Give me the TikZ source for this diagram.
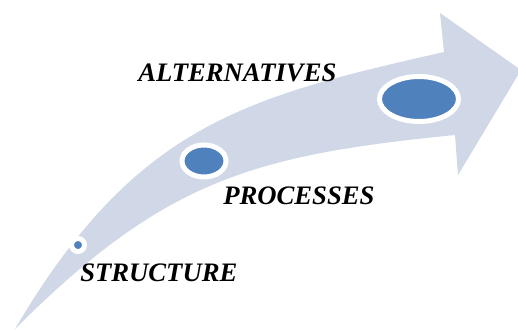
\documentclass[tikz,border=0pt]{standalone}
\usepackage{fontspec}
\setmainfont{Liberation Serif}
\usepackage{tikz}

\begin{document}
\begin{tikzpicture}[x=0.75pt,y=0.75pt,yscale=-1,xscale=1]
\tikzset{stage/.style={draw={rgb, 255:red, 255; green, 255; blue, 255 }, line width=3.75, fill={rgb, 255:red, 79; green, 129; blue, 189 }, fill opacity=1},
  steplabel/.style={anchor=base west, inner sep=0pt, font=\fontsize{20}{24}\selectfont\bfseries\itshape}}
%set diagram left start at 0, and has height of 329
\path[use as bounding box] (0,0) rectangle (518,329);

%Shape: Curved Right Arrow [id:dp1]
\draw  [draw=none, fill={rgb, 255:red, 208; green, 216; blue, 232 }  ,fill opacity=1 ] (15,329) .. controls (135,125) and (245,97) .. (444,52) -- (440,13) -- (521,70) -- (458,175) -- (455,135) .. controls (255,155) and (165,179) .. (15,329) -- cycle ;
%Shape: Circle [id:dp2]
\draw  [stage] (71.5,245) .. controls (71.5,241.41) and (74.41,238.5) .. (78,238.5) .. controls (81.59,238.5) and (84.5,241.41) .. (84.5,245) .. controls (84.5,248.59) and (81.59,251.5) .. (78,251.5) .. controls (74.41,251.5) and (71.5,248.59) .. (71.5,245) -- cycle ;
%Shape: Ellipse [id:dp3]
\draw  [stage] (182,161) .. controls (182,152.16) and (191.85,145) .. (204,145) .. controls (216.15,145) and (226,152.16) .. (226,161) .. controls (226,169.84) and (216.15,177) .. (204,177) .. controls (191.85,177) and (182,169.84) .. (182,161) -- cycle ;
%Shape: Ellipse [id:dp4]
\draw  [stage] (379.5,99) .. controls (379.5,86.57) and (397.18,76.5) .. (419,76.5) .. controls (440.82,76.5) and (458.5,86.57) .. (458.5,99) .. controls (458.5,111.43) and (440.82,121.5) .. (419,121.5) .. controls (397.18,121.5) and (379.5,111.43) .. (379.5,99) -- cycle ;

% Text Node
\node (alternatives) [steplabel] at (138,81) {ALTERNATIVES};
% Text Node
\node (processes) [steplabel] at (223,204) {PROCESSES};
% Text Node
\node (structure) [steplabel] at (80,281) {STRUCTURE};

\end{tikzpicture}
\end{document}
